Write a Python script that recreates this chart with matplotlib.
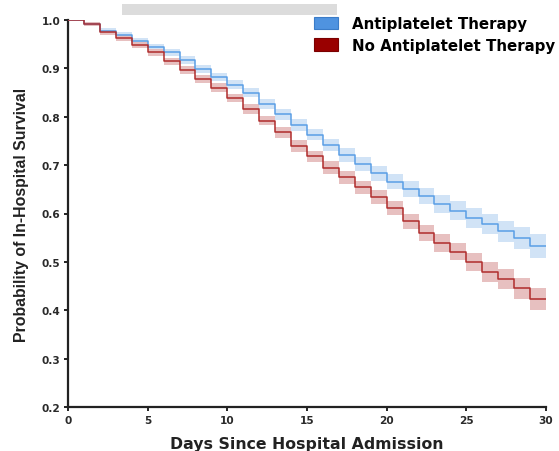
import numpy as np
import matplotlib
matplotlib.use("Agg")
import matplotlib.pyplot as plt
from matplotlib.patches import Patch, Rectangle

# survival estimate per day (value holding from day i to day i+1)
days = list(range(0, 31))
anti_surv = [1.000, 0.992, 0.978, 0.969, 0.957, 0.944, 0.933, 0.918, 0.899, 0.882,
             0.866, 0.850, 0.827, 0.805, 0.783, 0.763, 0.742, 0.721, 0.702, 0.683,
             0.666, 0.651, 0.636, 0.620, 0.606, 0.591, 0.579, 0.563, 0.549, 0.533]
noanti_surv = [1.000, 0.992, 0.975, 0.962, 0.949, 0.933, 0.915, 0.897, 0.878, 0.860,
               0.839, 0.816, 0.792, 0.768, 0.740, 0.718, 0.695, 0.675, 0.654, 0.634,
               0.611, 0.584, 0.560, 0.539, 0.521, 0.500, 0.479, 0.464, 0.445, 0.423]
# half width of the confidence band per step
anti_ci = [0.000, 0.004, 0.005, 0.006, 0.006, 0.007, 0.007, 0.008, 0.008, 0.009,
           0.009, 0.010, 0.010, 0.011, 0.012, 0.012, 0.013, 0.014, 0.014, 0.015,
           0.016, 0.017, 0.017, 0.018, 0.019, 0.020, 0.021, 0.022, 0.023, 0.025]
noanti_ci = [0.000, 0.004, 0.005, 0.006, 0.006, 0.007, 0.007, 0.008, 0.008, 0.009,
             0.009, 0.010, 0.010, 0.011, 0.012, 0.012, 0.013, 0.013, 0.014, 0.015,
             0.015, 0.016, 0.017, 0.018, 0.018, 0.019, 0.020, 0.021, 0.022, 0.023]

labels = ["Antiplatelet Therapy", "No Antiplatelet Therapy"]
x_ticks = [0, 5, 10, 15, 20, 25, 30]
y_ticks = [0.2, 0.3, 0.4, 0.5, 0.6, 0.7, 0.8, 0.9, 1.0]

blue_line = "#5a9ee6"
blue_fill = "#cce0f6"
red_line = "#b02c2c"
red_fill = "#e5b9b9"

fig = plt.figure(figsize=(5.59, 4.52), dpi=100)
ax = fig.add_axes([68 / 559, 44 / 452, 478 / 559, 387 / 452])

x = np.array(days)


def extend(v):
    # repeat last value so the step reaches day 30
    v = np.array(v, dtype=float)
    return np.append(v, v[-1])


for surv, ci, lc, fc in [(anti_surv, anti_ci, blue_line, blue_fill),
                         (noanti_surv, noanti_ci, red_line, red_fill)]:
    s = extend(surv)
    c = extend(ci)
    ax.fill_between(x, s - c, s + c, step="post", color=fc, alpha=0.9,
                    linewidth=0, zorder=1)
    ax.step(x, s, where="post", color=lc, linewidth=1.1, zorder=3)

ax.set_xlim(0, 30)
ax.set_ylim(0.2, 1.0)
ax.set_xticks(x_ticks)
ax.set_yticks(y_ticks)
ax.set_yticklabels([f"{t:.1f}" for t in y_ticks])

for side in ["top", "right"]:
    ax.spines[side].set_visible(False)
for side in ["left", "bottom"]:
    ax.spines[side].set_linewidth(1.6)
    ax.spines[side].set_color("#222222")

ax.tick_params(axis="both", direction="out", length=3, width=1.4,
               color="#222222", pad=2.5)
for lab in ax.get_xticklabels() + ax.get_yticklabels():
    lab.set_fontfamily("DejaVu Sans")
    lab.set_fontweight("bold")
    lab.set_fontsize(7.6)
    lab.set_color("#2a2a2a")

ax.set_xlabel("Days Since Hospital Admission", fontsize=11.3,
              fontweight="bold", family="DejaVu Sans", color="#222222",
              labelpad=8)
ax.set_ylabel("Probability of In-Hospital Survival", fontsize=11.4,
              fontweight="bold", family="Liberation Sans", color="#222222",
              labelpad=9)

handles = [Patch(facecolor="#4f93e0", edgecolor="#3b7cc8", linewidth=0.8),
           Patch(facecolor="#990000", edgecolor="#7a0000", linewidth=0.8)]
fig.legend(handles, labels, loc="upper left",
           bbox_to_anchor=(314 / 559, 1 - 17 / 452),
           frameon=False, handlelength=1.6, handleheight=0.9,
           handletextpad=0.9, labelspacing=0.45, borderaxespad=0,
           borderpad=0,
           prop={"family": "DejaVu Sans", "weight": "bold", "size": 10.8})

# light grey bar at the top of the figure
fig.patches.append(Rectangle((122 / 559, 1 - 16 / 452), 215 / 559, 11 / 452,
                             transform=fig.transFigure, facecolor="#dcdcdc",
                             edgecolor="none"))

fig.savefig("out.png", dpi=100)
